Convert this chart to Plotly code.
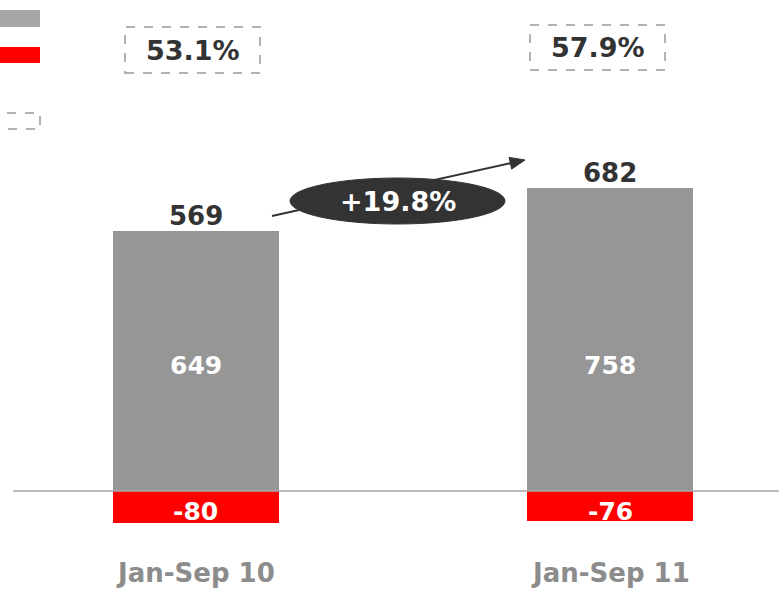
import plotly.graph_objects as go

categories = ["Jan-Sep 10", "Jan-Sep 11"]
gross = [649, 758]
adjust = [-80, -76]
net = [569, 682]
margin_pct = ["53.1%", "57.9%"]
growth = "+19.8%"

W, H = 779, 589


def px(x):
    return x / W


def py(y):
    return 1 - y / H


FONT = "DejaVu Sans"
DARK = "#333333"

fig = go.Figure()
fig.add_trace(go.Bar(x=categories, y=gross, marker=dict(color="#969696", line=dict(width=0)),
                     width=0.40, showlegend=False, hoverinfo="skip"))
fig.add_trace(go.Bar(x=categories, y=adjust, marker=dict(color="#ff0000", line=dict(width=0)),
                     width=0.40, showlegend=False, hoverinfo="skip"))

ann = []
for c, v in zip(categories, gross):
    ann.append(dict(x=c, y=315, xref="x", yref="y", text=str(v), showarrow=False,
                    xanchor="center", yanchor="middle",
                    font=dict(family=FONT, size=25, color="white", weight="bold")))
for c, v in zip(categories, adjust):
    ann.append(dict(x=c, y=-50, xref="x", yref="y", text=str(v), showarrow=False,
                    xanchor="center", yanchor="middle",
                    font=dict(family=FONT, size=25, color="white", weight="bold")))
for c, g, n in zip(categories, gross, net):
    ann.append(dict(x=c, y=g, xref="x", yref="y", text=str(n), showarrow=False,
                    xanchor="center", yanchor="middle", yshift=15,
                    font=dict(family=FONT, size=26, color=DARK, weight="bold")))
for c in categories:
    ann.append(dict(x=c, y=py(573), xref="x", yref="paper", text=c, showarrow=False,
                    xanchor="center", yanchor="middle",
                    font=dict(family=FONT, size=26, color="#8c8c8c", weight="bold")))

boxes = [(125, 27, 260, 73), (530, 25, 665, 70)]
shapes = []
for (x0, y0, x1, y1), t in zip(boxes, margin_pct):
    shapes.append(dict(type="rect", xref="paper", yref="paper", x0=px(x0), x1=px(x1),
                       y0=py(y1), y1=py(y0), line=dict(color="#999999", width=1.5, dash="dash")))
    ann.append(dict(x=px((x0 + x1) / 2), y=py((y0 + y1) / 2), xref="paper", yref="paper",
                    text=t, showarrow=False, xanchor="center", yanchor="middle",
                    font=dict(family=FONT, size=27, color=DARK, weight="bold")))

shapes.append(dict(type="rect", xref="paper", yref="paper", x0=px(-2), x1=px(40), y0=py(27), y1=py(10),
                   fillcolor="#a6a6a6", line=dict(width=0)))
shapes.append(dict(type="rect", xref="paper", yref="paper", x0=px(-2), x1=px(40), y0=py(63), y1=py(47),
                   fillcolor="#ff0000", line=dict(width=0)))
shapes.append(dict(type="rect", xref="paper", yref="paper", x0=px(-10), x1=px(40), y0=py(129), y1=py(113),
                   line=dict(color="#999999", width=1.5, dash="dash")))

shapes.append(dict(type="line", xref="paper", yref="y", x0=px(13), x1=1, y0=0, y1=0,
                   line=dict(color="#a6a6a6", width=1.5)))

tip = (525, 160)
start = (272, 216)
dx, dy = tip[0] - start[0], tip[1] - start[1]
L = (dx ** 2 + dy ** 2) ** 0.5
ux, uy = dx / L, dy / L
hl, hw = 15, 6
bx, by = tip[0] - hl * ux, tip[1] - hl * uy
p1 = (bx - hw * uy, by + hw * ux)
p2 = (bx + hw * uy, by - hw * ux)
shapes.append(dict(type="line", xref="paper", yref="paper", x0=px(start[0]), y0=py(start[1]),
                   x1=px(bx), y1=py(by), line=dict(color=DARK, width=2)))
shapes.append(dict(type="path", xref="paper", yref="paper",
                   path=f"M {px(tip[0])},{py(tip[1])} L {px(p1[0])},{py(p1[1])} L {px(p2[0])},{py(p2[1])} Z",
                   fillcolor=DARK, line=dict(color=DARK, width=1)))
shapes.append(dict(type="circle", xref="paper", yref="paper", x0=px(290), x1=px(505),
                   y0=py(224), y1=py(178), fillcolor=DARK, line=dict(color=DARK, width=1)))
ann.append(dict(x=px(398), y=py(201), xref="paper", yref="paper", text=growth, showarrow=False,
                xanchor="center", yanchor="middle",
                font=dict(family=FONT, size=27, color="white", weight="bold")))

fig.update_layout(
    width=W, height=H, margin=dict(l=0, r=0, t=0, b=0),
    barmode="relative", bargap=0,
    plot_bgcolor="white", paper_bgcolor="white",
    xaxis=dict(range=[-0.473, 1.408], showticklabels=False, showgrid=False, zeroline=False,
               showline=False, ticks=""),
    yaxis=dict(range=[-245, 1227.5], showticklabels=False, showgrid=False, zeroline=False,
               showline=False, ticks=""),
    shapes=shapes, annotations=ann,
)

fig.write_html("out.html", config={"displayModeBar": False},
               post_script="document.body.style.margin='0';document.body.style.overflow='hidden';")
